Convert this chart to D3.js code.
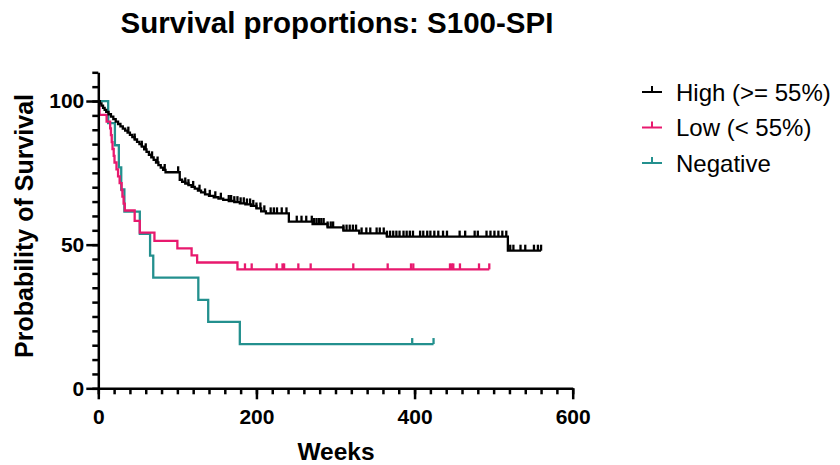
<!DOCTYPE html>
<html>
<head>
<meta charset="utf-8">
<script src="https://cdn.jsdelivr.net/npm/d3@7"></script>
<style>
body { margin: 0; background: #fff; }
svg { display: block; font-family: Arial, "Liberation Sans", Helvetica, sans-serif; }
</style>
</head>
<body>
<svg id="chart" width="840" height="465"></svg>
<script>
// Kaplan-Meier steps: [week, survival % after the drop]
var highSteps = [
    [2, 99.2], [4, 98.4], [6, 97.6], [8, 96.9], [10, 96.2], [13, 95.4], [16, 94.6], [19, 93.7],
    [22, 92.8], [25, 92.0], [28, 91.2], [31, 90.4], [34, 89.7], [37, 89.0], [40, 88.2], [43, 87.4],
    [46, 86.6], [49, 85.8], [52, 85.0], [55, 84.1], [58, 83.2], [61, 82.3], [64, 81.3], [67, 80.4],
    [70, 79.5], [73, 78.6], [76, 77.7], [79, 76.8], [82, 76.0], [85, 75.2],
    [103, 72.6], [106, 71.9], [110, 71.3], [114, 70.7], [118, 70.1], [122, 69.5], [126, 68.8],
    [130, 68.2], [135, 67.5], [140, 67.0], [146, 66.5], [152, 66.0], [158, 65.6], [165, 65.2],
    [172, 64.8], [179, 64.4], [186, 64.0], [193, 63.5], [200, 62.6], [206, 61.6], [212, 60.9],
    [241, 58.0], [271, 57.2], [290, 56.0], [310, 54.9], [330, 53.9], [365, 52.8], [518, 47.9]
];
var highCensor = [
    38, 46, 55, 60, 68, 75, 84, 101, 110, 114, 120, 128, 135, 141, 148, 155, 165, 168, 172, 176,
    180, 184, 188, 192, 196, 200, 205, 210, 218, 222, 226, 232, 238, 251, 257, 263, 270, 273, 276,
    279, 282, 285, 290, 294, 297, 310, 314, 318, 322, 326, 333, 339, 344, 352, 356, 361, 365, 369,
    373, 377, 381, 386, 390, 394, 398, 407, 411, 416, 420, 425, 430, 436, 441, 457, 464, 476, 480,
    491, 496, 501, 506, 511, 516, 521, 525, 534, 540, 551, 556, 560
];

var lowSteps = [
    [1.5, 95.2], [10.5, 92.8], [15, 90.5], [16, 88.1], [17, 85.7], [18, 83.3], [19.5, 80.9],
    [20.5, 78.6], [23, 76.2], [25, 73.8], [27, 71.4], [29.5, 69.0], [30.5, 66.7], [32, 64.3],
    [33.5, 61.9], [46, 58.3], [52.5, 54.2], [71, 51.3], [100, 48.7], [118, 46.3], [125, 43.8],
    [176, 41.4]
];
var lowCensor = [185.5, 194, 225.6, 233, 235, 253, 268.6, 322.5, 366, 395.5, 398.4, 444.8, 447, 449, 457.4, 481.5, 494.5];

var negSteps = [
    [12.5, 92.3], [21, 84.6], [26, 76.9], [29, 69.2], [33, 61.5], [52.5, 53.8], [65.5, 46.2],
    [69.5, 38.5], [126.5, 30.8], [139, 23.1], [179, 15.4]
];
var negCensor = [397, 424];

var groupNames  = ["High (>= 55%)", "Low (< 55%)", "Negative"];
var groupColors = ["#000000", "#e8196e", "#23908e"];

var xMajor = [0, 200, 400, 600];
var yMajor = [0, 50, 100];

var groups = [
    { name: groupNames[0], steps: highSteps, censor: highCensor, color: groupColors[0] },
    { name: groupNames[1], steps: lowSteps,  censor: lowCensor,  color: groupColors[1] },
    { name: groupNames[2], steps: negSteps,  censor: negCensor,  color: groupColors[2] }
];

var svg = d3.select("#chart");

var x = d3.scaleLinear().domain([0, 600]).range([98.3, 572.7]);
var y = d3.scaleLinear().domain([0, 110]).range([388.3, 72.3]);

function survAt(steps, t) {
    var s = 100;
    steps.forEach(function(d) { if (d[0] <= t) s = d[1]; });
    return s;
}

var line = d3.line()
    .x(d => x(d[0]))
    .y(d => y(d[1]))
    .curve(d3.curveStepAfter);

// curves, drawn bottom to top: Negative, Low, High
groups.slice().reverse().forEach(function(g) {
    var last = g.steps[g.steps.length - 1];
    var end = Math.max(last[0], d3.max(g.censor));
    var pts = [[0, 100]].concat(g.steps).concat([[end, last[1]]]);

    var gg = svg.append("g");
    gg.append("path")
        .attr("d", line(pts))
        .attr("fill", "none")
        .attr("stroke", g.color)
        .attr("stroke-width", 2.3);

    gg.selectAll("line")
        .data(g.censor)
        .enter().append("line")
        .attr("x1", d => x(d)).attr("x2", d => x(d))
        .attr("y1", d => y(survAt(g.steps, d)))
        .attr("y2", d => y(survAt(g.steps, d)) - 6)
        .attr("stroke", g.color)
        .attr("stroke-width", 2.3);
});

// axes
function styleAxis(sel) {
    sel.selectAll("path, line").attr("stroke", "#000").attr("stroke-width", 2.5);
    sel.selectAll("text").attr("fill", "#000").style("font-weight", "bold").style("font-size", "21px");
}

svg.append("g")
    .attr("transform", "translate(0," + y(0) + ")")
    .call(d3.axisBottom(x).tickValues(d3.range(0, 601, 20)).tickSize(6).tickSizeOuter(0).tickFormat(""))
    .call(styleAxis);
svg.append("g")
    .attr("transform", "translate(0," + y(0) + ")")
    .call(d3.axisBottom(x).tickValues(xMajor).tickSize(11).tickSizeOuter(0).tickPadding(10))
    .call(styleAxis)
    .call(g => g.select(".domain").remove());

svg.append("g")
    .attr("transform", "translate(" + x(0) + ",0)")
    .call(d3.axisLeft(y).tickValues(d3.range(0, 111, 5)).tickSize(6).tickSizeOuter(0).tickFormat(""))
    .call(styleAxis);
svg.append("g")
    .attr("transform", "translate(" + x(0) + ",0)")
    .call(d3.axisLeft(y).tickValues(yMajor).tickSize(12).tickSizeOuter(0).tickPadding(2))
    .call(styleAxis)
    .call(g => g.select(".domain").remove());

// titles
svg.append("text")
    .attr("x", 337).attr("y", 33)
    .attr("text-anchor", "middle")
    .style("font-weight", "bold").style("font-size", "29.5px")
    .text("Survival proportions: S100-SPI");

svg.append("text")
    .attr("x", 336).attr("y", 460)
    .attr("text-anchor", "middle")
    .style("font-weight", "bold").style("font-size", "24.5px")
    .text("Weeks");

svg.append("text")
    .attr("transform", "translate(33,226) rotate(-90)")
    .attr("text-anchor", "middle")
    .style("font-weight", "bold").style("font-size", "25px")
    .text("Probability of Survival");

// legend
var legend = svg.append("g");
groups.forEach(function(g, i) {
    var ly = 92 + i * 35.5;
    legend.append("line")
        .attr("x1", 642).attr("x2", 662).attr("y1", ly).attr("y2", ly)
        .attr("stroke", g.color).attr("stroke-width", 2);
    legend.append("line")
        .attr("x1", 652).attr("x2", 652).attr("y1", ly).attr("y2", ly - 6)
        .attr("stroke", g.color).attr("stroke-width", 2);
    legend.append("text")
        .attr("x", 676).attr("y", ly + 8.5)
        .style("font-size", "24px")
        .text(g.name);
});
</script>
</body>
</html>
